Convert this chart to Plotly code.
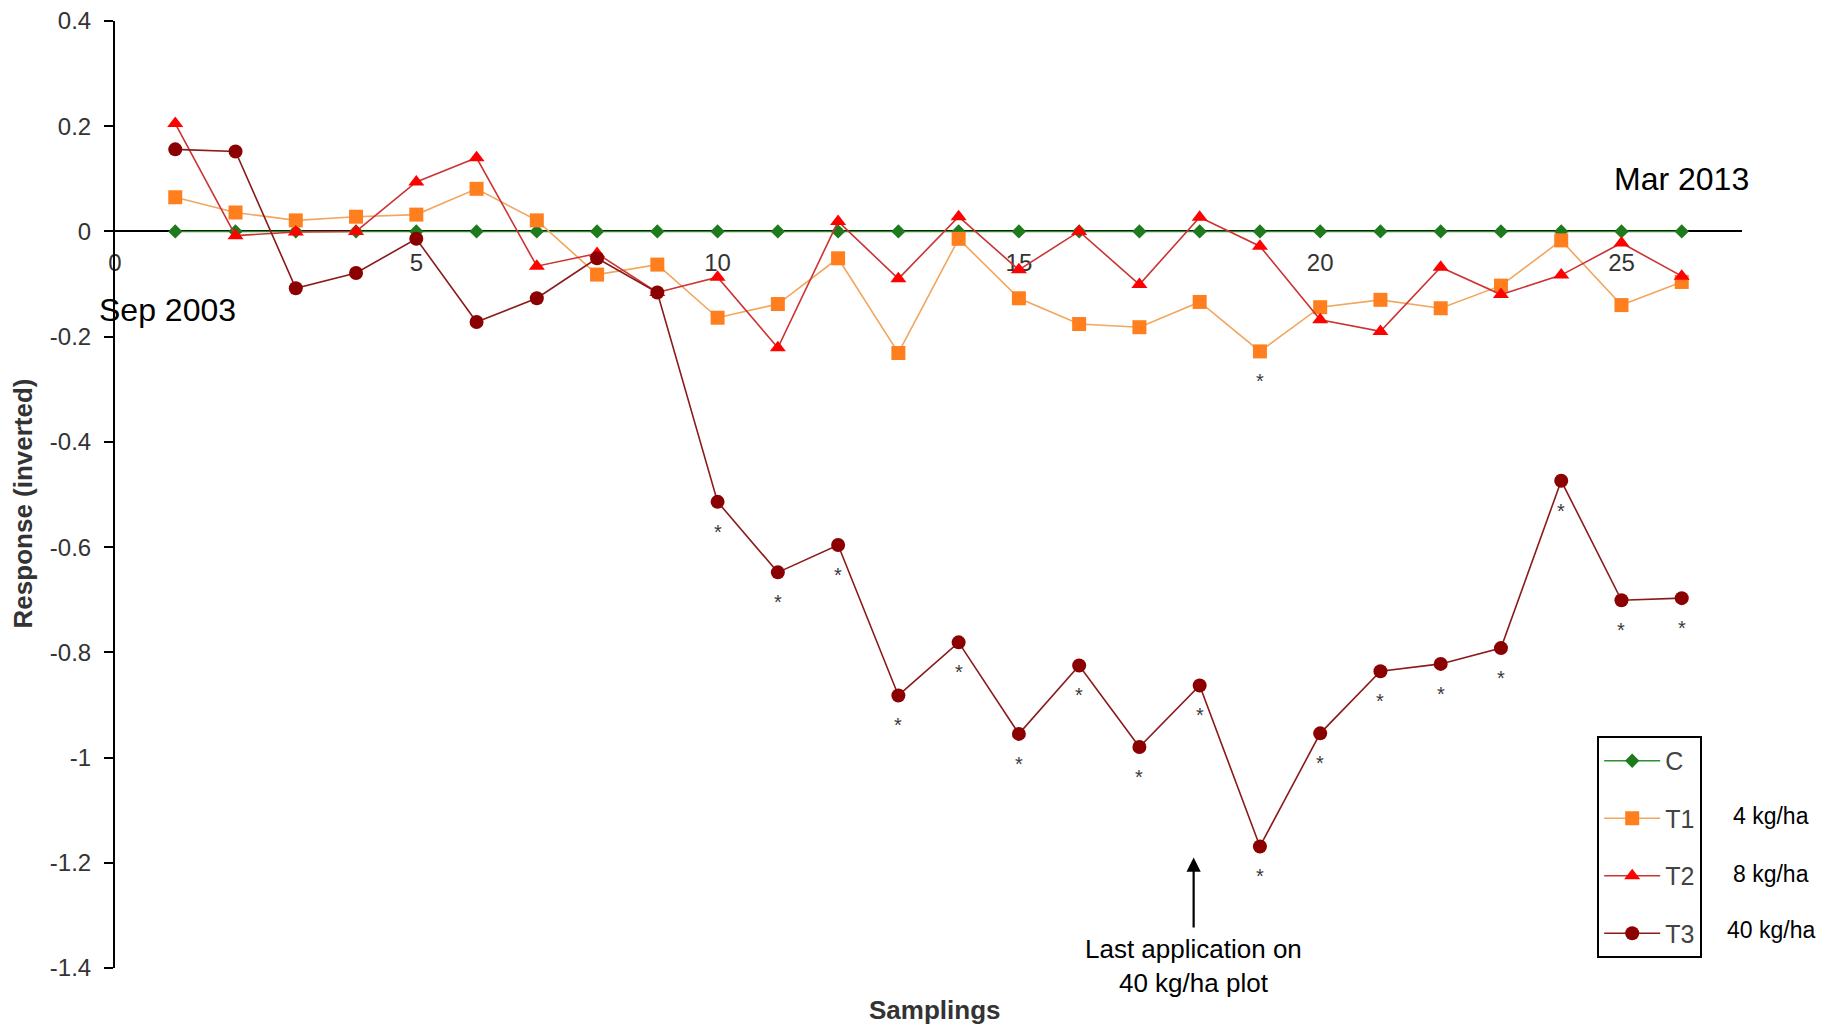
import plotly.graph_objects as go

samplings = list(range(1, 27))

c_vals = [0.0] * 26

t1_vals = [0.065, 0.036, 0.021, 0.028, 0.032, 0.081, 0.021, -0.082, -0.063, -0.164,
           -0.138, -0.051, -0.231, -0.014, -0.127, -0.176, -0.182, -0.134, -0.228, -0.144,
           -0.130, -0.146, -0.103, -0.017, -0.140, -0.096]

t2_vals = [0.205, -0.008, -0.001, 0.000, 0.094, 0.140, -0.066, -0.042, -0.116, -0.087,
           -0.221, 0.019, -0.090, 0.028, -0.073, 0.000, -0.101, 0.027, -0.028, -0.168,
           -0.190, -0.068, -0.120, -0.083, -0.022, -0.085]

t3_vals = [0.156, 0.152, -0.108, -0.079, -0.014, -0.172, -0.127, -0.051, -0.116, -0.514,
           -0.648, -0.596, -0.882, -0.781, -0.955, -0.825, -0.980, -0.863, -1.169, -0.954,
           -0.836, -0.822, -0.792, -0.474, -0.701, -0.697]

t3_signif = list(range(10, 27))
t1_signif = [19]

series_names = ["C", "T1", "T2", "T3"]
dose_labels = ["4 kg/ha", "8 kg/ha", "40 kg/ha"]

x_ticks = [0, 5, 10, 15, 20, 25]
y_ticks = [0.4, 0.2, 0, -0.2, -0.4, -0.6, -0.8, -1, -1.2, -1.4]

FONT = "Arial, Liberation Sans, sans-serif"

fig = go.Figure()

styles = [
    dict(line=dict(color="#2f8f2f", width=1.6),
         marker=dict(symbol="diamond", size=11, color="#1d7a1d")),
    dict(line=dict(color="#f2a65e", width=1.6),
         marker=dict(symbol="square", size=14, color="#ff7f1f")),
    dict(line=dict(color="#cc3333", width=1.6),
         marker=dict(symbol="triangle-up", size=14, color="#ff0000")),
    dict(line=dict(color="#8b1a1a", width=1.6),
         marker=dict(symbol="circle", size=14, color="#8b0000")),
]
all_vals = [c_vals, t1_vals, t2_vals, t3_vals]

for name, vals, st in zip(series_names, all_vals, styles):
    fig.add_trace(go.Scatter(
        x=samplings, y=vals, mode="lines+markers", name=name,
        legendgroup=name, line=st["line"], marker=st["marker"],
    ))

annotations = []
# significance stars
for s in t3_signif:
    annotations.append(dict(x=s, y=t3_vals[s - 1], xref="x", yref="y", text="*",
                            showarrow=False, yshift=-30,
                            font=dict(size=20, color="#3a3a3a", family=FONT)))
for s in t1_signif:
    annotations.append(dict(x=s, y=t1_vals[s - 1], xref="x", yref="y", text="*",
                            showarrow=False, yshift=-30,
                            font=dict(size=20, color="#3a3a3a", family=FONT)))

annotations += [
    dict(x=0.87, y=-0.15, xref="x", yref="y", text="Sep 2003", showarrow=False,
         xanchor="center", yanchor="middle",
         font=dict(size=32, color="black", family=FONT)),
    dict(x=26.0, y=0.099, xref="x", yref="y", text="Mar 2013", showarrow=False,
         xanchor="center", yanchor="middle",
         font=dict(size=32, color="black", family=FONT)),
    dict(x=17.9, y=-1.396, xref="x", yref="y",
         text="Last application on<br>40 kg/ha plot", showarrow=False,
         xanchor="center", yanchor="middle",
         font=dict(size=26, color="black", family=FONT)),
    dict(x=17.9, y=-1.19, ax=17.9, ay=-1.326, xref="x", yref="y", axref="x", ayref="y",
         text="", showarrow=True, arrowhead=2, arrowsize=1.3, arrowwidth=2.2,
         arrowcolor="black"),
    dict(x=13.6, y=-0.044, xref="x", yref="paper", text="<b>Samplings</b>",
         showarrow=False, xanchor="center", yanchor="middle",
         font=dict(size=26, color="#333333", family=FONT)),
    dict(x=-0.0563, y=0.491, xref="paper", yref="paper", text="<b>Response (inverted)</b>",
         textangle=-90, showarrow=False, xanchor="center", yanchor="middle",
         font=dict(size=26, color="#333333", family=FONT)),
]
for lab, yv in zip(dose_labels, [-1.112, -1.222, -1.328]):
    annotations.append(dict(x=1.018, y=yv, xref="paper", yref="y", text=lab,
                            showarrow=False, xanchor="center", yanchor="middle",
                            font=dict(size=23, color="black", family=FONT)))

fig.update_layout(
    width=1825, height=1018,
    margin=dict(l=107, r=91, t=13, b=58, autoexpand=False),
    paper_bgcolor="white", plot_bgcolor="white",
    font=dict(family=FONT, size=24, color="#333333"),
    showlegend=True,
    legend=dict(x=0.911, y=0.245, xanchor="left", yanchor="top",
                bgcolor="white", bordercolor="black", borderwidth=2,
                font=dict(size=25, color="#444444", family=FONT),
                tracegroupgap=22, itemwidth=56),
    annotations=annotations,
    xaxis=dict(range=[0, 27], tickvals=x_ticks, ticktext=[str(v) for v in x_ticks],
               showgrid=False, zeroline=False, showline=True, linecolor="black",
               linewidth=2, ticks="", anchor="free", position=1.4 / 1.8,
               ticklabelstandoff=10, layer="below traces", ticklabeloverflow="allow",
               automargin=False,
               tickfont=dict(size=24, color="#333333", family=FONT)),
    yaxis=dict(range=[-1.4, 0.4], tickvals=y_ticks, ticktext=[f"{v:g}" for v in y_ticks],
               showgrid=False, zeroline=False, showline=True, linecolor="black",
               linewidth=2, ticks="outside", ticklen=9, tickwidth=2, tickcolor="black",
               ticklabelstandoff=8, ticklabeloverflow="allow", automargin=False,
               tickfont=dict(size=24, color="#333333", family=FONT)),
)

fig.write_html("out.html")
